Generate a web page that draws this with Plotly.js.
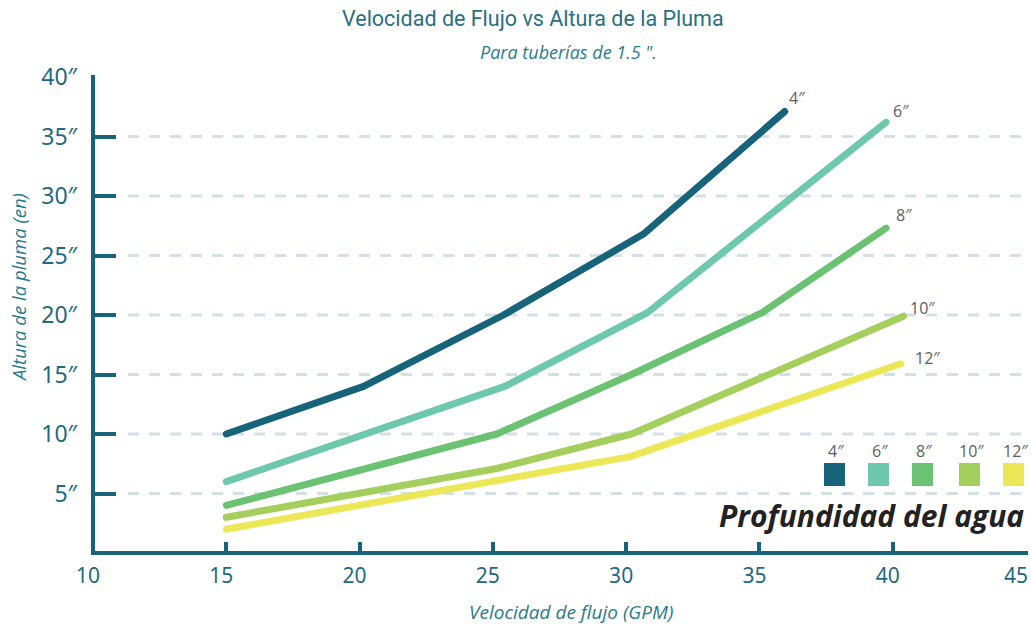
<!DOCTYPE html>
<html>
<head>
<meta charset="utf-8">
<script src="https://cdn.plot.ly/plotly-3.0.1.min.js"></script>
<style>
html,body{margin:0;padding:0;background:#fff;}
#chart{width:1031px;height:624px;}
.js-line{stroke-linecap:round;stroke-linejoin:round;}
</style>
</head>
<body>
<div id="chart"></div>
<script>
// ---- data ----
const seriesNames = ['4″', '6″', '8″', '10″', '12″'];
const flow4 = [15, 20.15, 25.4, 30.65, 35.95];
const height4 = [10, 14, 20, 26.8, 37.1];
const flow6 = [15, 25.45, 30.8, 39.75];
const height6 = [6, 14, 20.2, 36.2];
const flow8 = [15, 20.15, 25.15, 30.2, 35.1, 39.75];
const height8 = [4, 7.1, 10, 15, 20.2, 27.3];
const flow10 = [15, 25.15, 30.2, 40.4];
const height10 = [3, 7.1, 10, 19.9];
const flow12 = [15, 30.15, 40.3];
const height12 = [2, 8.1, 15.9];
const xTickVals = [10, 15, 20, 25, 30, 35, 40, 45];
const xTickText = ['10', '15', '20', '25', '30', '35', '40', '45'];
const yTickVals = [5, 10, 15, 20, 25, 30, 35, 40];
const yTickText = ['5″', '10″', '15″', '20″', '25″', '30″', '35″', '40″'];
const gridVals = [5, 10, 15, 20, 25, 30, 35];

// ---- styles ----
const colors = ['#17637a', '#6ec8ab', '#6bc273', '#a4cf5d', '#ebe757'];
const axisColor = '#17647a';
const tickFontColor = '#1f6a7e';
const tickFont = {family: 'Noto Sans, Open Sans, sans-serif', size: 21, color: tickFontColor};

const W = 1031, H = 624;
const M = {l: 93, r: 5, t: 77, b: 71};
const PW = W - M.l - M.r, PH = H - M.t - M.b;
const px = x => (x - M.l) / PW;
const py = y => (H - M.b - y) / PH;

const xs = [flow4, flow6, flow8, flow10, flow12];
const ys = [height4, height6, height8, height10, height12];

const traces = seriesNames.map((n, i) => ({
  type: 'scatter', mode: 'lines', name: n,
  x: xs[i], y: ys[i],
  line: {color: colors[i], width: 7},
  hoverinfo: 'skip'
}));

const labelShift = [[12, 14], [15, 11], [18, 13], [19, 8], [27, 6]];
const annotations = [];
seriesNames.forEach((n, i) => {
  const last = xs[i].length - 1;
  annotations.push({
    x: xs[i][last], y: ys[i][last], xref: 'x', yref: 'y',
    text: n, showarrow: false, xanchor: 'center', yanchor: 'middle',
    xshift: labelShift[i][0], yshift: labelShift[i][1],
    font: {family: 'Open Sans, Noto Sans, sans-serif', size: 16, color: '#606060'}
  });
});

// last x tick label sits against the right edge; keep it fully inside the page
const lastTick = xTickText.length - 1;
const shownTickText = xTickText.map((t, i) => i === lastTick ? '' : t);
annotations.push({
  xref: 'paper', yref: 'paper', x: px(1030), y: py(575),
  text: xTickText[lastTick], showarrow: false, xanchor: 'right', yanchor: 'middle',
  font: tickFont
});

annotations.push({
  xref: 'paper', yref: 'paper', x: px(533), y: py(19),
  text: 'Velocidad de Flujo vs Altura de la Pluma', showarrow: false,
  xanchor: 'center', yanchor: 'middle',
  font: {family: 'Roboto, sans-serif', size: 21.5, color: '#2b6f82'}
});
annotations.push({
  xref: 'paper', yref: 'paper', x: px(568), y: py(52),
  text: 'Para tuberías de 1.5 ".', showarrow: false,
  xanchor: 'center', yanchor: 'middle',
  font: {family: 'Open Sans, Noto Sans, sans-serif', size: 18, style: 'italic', color: '#2a7d8d'}
});
annotations.push({
  xref: 'paper', yref: 'paper', x: px(18), y: py(288),
  text: 'Altura de la pluma (en)', showarrow: false, textangle: -90,
  xanchor: 'center', yanchor: 'middle',
  font: {family: 'Open Sans, Noto Sans, sans-serif', size: 18.5, style: 'italic', color: '#2a7a8a'}
});
annotations.push({
  xref: 'paper', yref: 'paper', x: px(571), y: py(612),
  text: 'Velocidad de flujo (GPM)', showarrow: false,
  xanchor: 'center', yanchor: 'middle',
  font: {family: 'Open Sans, Noto Sans, sans-serif', size: 19, style: 'italic', color: '#2a7a8a'}
});
annotations.push({
  xref: 'paper', yref: 'paper', x: px(1026), y: py(515),
  text: '<b><i>Profundidad del agua</i></b>', showarrow: false,
  xanchor: 'right', yanchor: 'middle',
  font: {family: 'Open Sans, Noto Sans, sans-serif', size: 30, color: '#222222'}
});

// legend swatches
const swatchLeft = [824, 868, 912, 959, 1003];
const shapes = [];
seriesNames.forEach((n, i) => {
  shapes.push({
    type: 'rect', xref: 'paper', yref: 'paper',
    x0: px(swatchLeft[i]), x1: px(swatchLeft[i] + 21),
    y0: py(486), y1: py(463),
    fillcolor: colors[i], line: {width: 0}
  });
  annotations.push({
    xref: 'paper', yref: 'paper', x: px(swatchLeft[i] + 12), y: py(451),
    text: n, showarrow: false, xanchor: 'center', yanchor: 'middle',
    font: {family: 'Open Sans, Noto Sans, sans-serif', size: 16, color: '#606060'}
  });
});

// dashed grid lines
gridVals.forEach(v => {
  shapes.push({
    type: 'line', xref: 'paper', yref: 'y', x0: px(128), x1: 1.01, y0: v, y1: v,
    line: {color: '#d3e0e6', width: 3, dash: '11px,10px'}, layer: 'below'
  });
});
// axis lines
shapes.push({type: 'line', xref: 'paper', yref: 'paper', x0: 0, x1: 0, y0: py(555), y1: py(75),
  line: {color: axisColor, width: 4}});
shapes.push({type: 'line', xref: 'paper', yref: 'paper', x0: px(91), x1: px(1028), y0: 0, y1: 0,
  line: {color: axisColor, width: 4}});

const layout = {
  width: W, height: H,
  margin: M,
  paper_bgcolor: '#ffffff', plot_bgcolor: '#ffffff',
  showlegend: false, hovermode: false,
  xaxis: {
    range: [10, 45], tickvals: xTickVals, ticktext: shownTickText, showgrid: false, zeroline: false, showline: false,
    ticks: 'inside', ticklen: 11, tickwidth: 4, tickcolor: axisColor,
    ticklabelshift: -5, ticklabelstandoff: 8, ticklabeloverflow: 'allow',
    tickfont: tickFont
  },
  yaxis: {
    range: [0, 40], tickvals: yTickVals, ticktext: yTickText, showgrid: false, zeroline: false, showline: false,
    ticks: 'inside', ticklen: 23, tickwidth: 4, tickcolor: axisColor,
    ticklabelstandoff: 15,
    tickfont: {family: 'Noto Sans, Open Sans, sans-serif', size: 23, color: tickFontColor}
  },
  annotations: annotations,
  shapes: shapes
};

Plotly.newPlot('chart', traces, layout, {displayModeBar: false, staticPlot: true});
</script>
</body>
</html>
